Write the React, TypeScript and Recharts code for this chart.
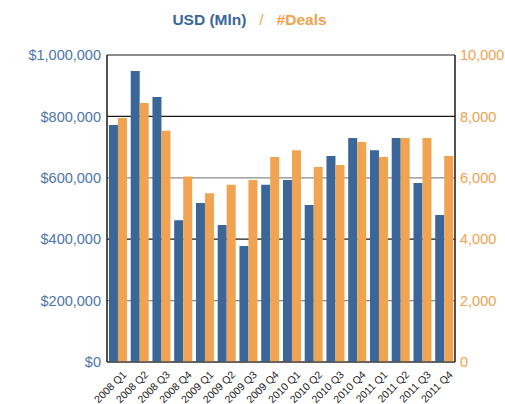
import React from 'react';
import {
    BarChart,
    Bar,
    XAxis,
    YAxis,
    CartesianGrid,
} from 'recharts';

const quarters = [
    "2008 Q1", "2008 Q2", "2008 Q3", "2008 Q4",
    "2009 Q1", "2009 Q2", "2009 Q3", "2009 Q4",
    "2010 Q1", "2010 Q2", "2010 Q3", "2010 Q4",
    "2011 Q1", "2011 Q2", "2011 Q3", "2011 Q4",
];

// USD (Mln)
const usd = [
    772000, 948000, 863000, 462000,
    518000, 446000, 378000, 577000,
    593000, 511000, 671000, 730000,
    690000, 730000, 583000, 479000,
];

// #Deals
const deals = [
    7950, 8440, 7530, 6040,
    5500, 5770, 5930, 6680,
    6900, 6350, 6420, 7170,
    6680, 7300, 7300, 6710,
];

const usdTicks = [0, 200000, 400000, 600000, 800000, 1000000];
const dealTicks = [0, 2000, 4000, 6000, 8000, 10000];

const BLUE = "#3a6699";
const ORANGE = "#f0a351";
const BLUE_TEXT = "#4d76aa";
const ORANGE_TEXT = "#f0a24f";

const data = quarters.map((q, i) => ({ quarter: q, usd: usd[i], deals: deals[i] }));

const fmtUsd = (v: number) => "$" + v.toLocaleString("en-US");
const fmtDeals = (v: number) => v.toLocaleString("en-US");

// alternating dark / grey gridlines, like the original
const gridLine = (p: any) => {
    const dark = p.index % 2 === 0 || p.index === usdTicks.length - 1;
    return (
        <line
            key={p.key}
            x1={p.x1}
            y1={p.y1}
            x2={p.x2}
            y2={p.y2}
            stroke={dark ? "#1a1a1a" : "#8a8a8a"}
            strokeWidth={1.2}
        />
    );
};

const XTick = (props: any) => {
    const { x, y, payload } = props;
    return (
        <g transform={`translate(${x + 5},${y + 1})`}>
            <text
                x={0}
                y={0}
                dy={6}
                textAnchor="end"
                fill="#222"
                fontSize={10.5}
                transform="rotate(-45)"
            >
                {payload.value}
            </text>
        </g>
    );
};

const App: React.FC = () => {
    return (
        <div style={{ position: 'absolute', left: 0, top: 0, width: 505, height: 404, fontFamily: '"Liberation Sans", Arial, sans-serif' }}>
            <div
                style={{
                    position: 'absolute',
                    top: 11,
                    left: -3,
                    width: 505,
                    textAlign: 'center',
                    fontSize: 15.5,
                    fontWeight: 'bold',
                    whiteSpace: 'pre',
                }}
            >
                <span style={{ color: BLUE }}>USD (Mln)</span>
                <span style={{ color: ORANGE_TEXT, fontWeight: 'normal' }}>{"   /   "}</span>
                <span style={{ color: ORANGE_TEXT }}>#Deals</span>
            </div>
            <BarChart
                width={505}
                height={404}
                data={data}
                margin={{ top: 55, right: 0, left: 0, bottom: 0 }}
                barCategoryGap="9%"
                barGap={0}
            >
                <CartesianGrid yAxisId="left" vertical={false} horizontal={gridLine} />
                <XAxis
                    dataKey="quarter"
                    height={42}
                    interval={0}
                    tick={<XTick />}
                    tickLine={false}
                    axisLine={{ stroke: "#555", strokeWidth: 1.5 }}
                />
                <YAxis
                    yAxisId="left"
                    width={107}
                    domain={[0, 1000000]}
                    ticks={usdTicks}
                    tickFormatter={fmtUsd}
                    tick={{ fill: BLUE_TEXT, fontSize: 14.5 }}
                    tickLine={false}
                    tickSize={0}
                    tickMargin={6}
                    axisLine={{ stroke: "#1a1a1a", strokeWidth: 1.5 }}
                />
                <YAxis
                    yAxisId="right"
                    orientation="right"
                    width={50}
                    domain={[0, 10000]}
                    ticks={dealTicks}
                    tickFormatter={fmtDeals}
                    tick={{ fill: ORANGE_TEXT, fontSize: 14.5 }}
                    tickLine={false}
                    tickSize={0}
                    tickMargin={5}
                    axisLine={{ stroke: "#1a1a1a", strokeWidth: 1.5 }}
                />
                <Bar yAxisId="left" dataKey="usd" fill={BLUE} isAnimationActive={false} />
                <Bar yAxisId="right" dataKey="deals" fill={ORANGE} isAnimationActive={false} />
            </BarChart>
        </div>
    );
};

export default App;
